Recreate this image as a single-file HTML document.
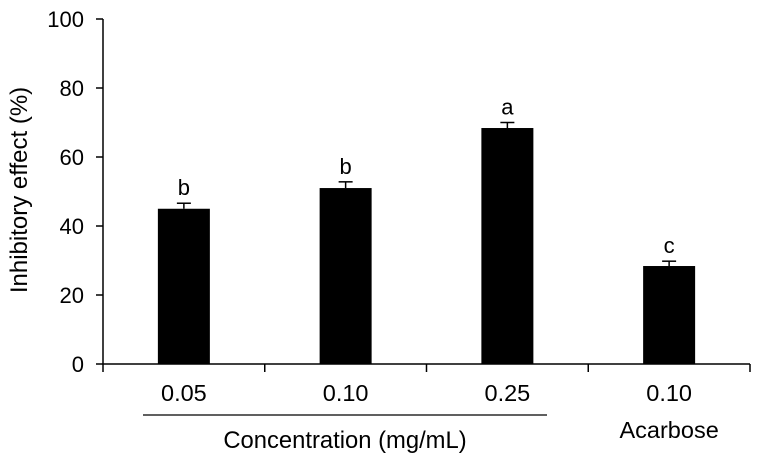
<!DOCTYPE html>
<html><head><meta charset="utf-8"><style>
html,body{margin:0;padding:0;background:#fff;}
svg{display:block;font-family:"Liberation Sans",Arial,sans-serif;}
</style></head><body>
<svg id="chart" width="759" height="463" viewBox="0 0 759 463"></svg>
<script>
const categories = ["0.05","0.10","0.25","0.10"];
const values = [45.0, 51.0, 68.4, 28.4];
const errors = [1.6, 1.8, 1.6, 1.4];
const letters = ["b","b","a","c"];
const yTicks = [0,20,40,60,80,100];

const NS="http://www.w3.org/2000/svg";
const svg=document.getElementById('chart');
const x0=103, x1=750, yBase=364, yTop=19, yMax=100;
const bandW=(x1-x0)/categories.length, barW=52;
function y(v){return yBase-(v/yMax)*(yBase-yTop);}
function xc(i){return x0+bandW*(i+0.5);}
function mk(tag,attrs,name,text){const e=document.createElementNS(NS,tag);for(const k in attrs)e.setAttribute(k,attrs[k]);


if(text!==undefined)e.textContent=text;svg.appendChild(e);return e;}

mk('line',{x1:x0,y1:yTop,x2:x0,y2:yBase,stroke:'#000','stroke-width':1.5},'y-axis-line');
mk('line',{x1:x0,y1:yBase,x2:x1,y2:yBase,stroke:'#000','stroke-width':1.5},'x-axis-line');
yTicks.forEach(t=>{
  mk('line',{x1:x0-7,y1:y(t),x2:x0,y2:y(t),stroke:'#000','stroke-width':1.5},'y-tick');
  mk('text',{x:84,y:y(t)+8,'text-anchor':'end','font-size':22},'y-tick-label',t);
});
for(let i=0;i<=categories.length;i++){
  const xx=x0+bandW*i;
  mk('line',{x1:xx,y1:yBase,x2:xx,y2:yBase+8,stroke:'#000','stroke-width':1.5},'x-tick');
}
categories.forEach((c,i)=>{
  const cx=xc(i);
  mk('rect',{x:cx-barW/2,y:y(values[i]),width:barW,height:yBase-y(values[i]),fill:'#000'},'bar-'+(i+1));
  const et=y(values[i]+errors[i]);
  mk('line',{x1:cx,y1:et,x2:cx,y2:y(values[i]),stroke:'#000','stroke-width':1.5},'error-bar');
  mk('line',{x1:cx-7,y1:et,x2:cx+7,y2:et,stroke:'#000','stroke-width':1.5},'error-cap');
  mk('text',{x:cx,y:et-8,'text-anchor':'middle','font-size':22},'significance-letter',letters[i]);
  mk('text',{x:cx,y:401,'text-anchor':'middle','font-size':23.5},'x-tick-label',c);
});
mk('line',{x1:143,y1:415,x2:547,y2:415,stroke:'#000','stroke-width':1.2},'group-underline');
mk('text',{x:345,y:448,'text-anchor':'middle','font-size':23.8},'x-axis-title','Concentration (mg/mL)');
mk('text',{x:xc(3),y:438,'text-anchor':'middle','font-size':23.5},'acarbose-label','Acarbose');
mk('text',{x:0,y:0,'text-anchor':'middle','font-size':24,transform:'translate(27,190) rotate(-90)'},'y-axis-title','Inhibitory effect (%)');
</script>
</body></html>
